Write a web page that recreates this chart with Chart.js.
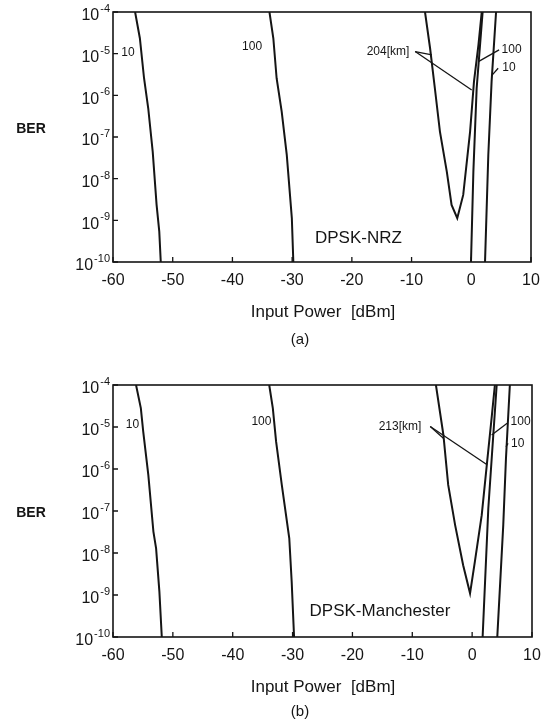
<!DOCTYPE html>
<html>
<head>
<meta charset="utf-8">
<script src="https://cdn.jsdelivr.net/npm/chart.js@4.4.1/dist/chart.umd.min.js"></script>
<style>
  body { margin: 0; background: #fff; }
  #wrap { position: relative; width: 558px; height: 721px; }
  canvas { position: absolute; left: 0; }
</style>
</head>
<body>
<div id="wrap">
  <canvas id="nrz" width="558" height="360" style="top:0px"></canvas>
  <canvas id="man" width="558" height="361" style="top:360px"></canvas>
</div>
<script>
var xTicks = [-60, -50, -40, -30, -20, -10, 0, 10];
var yExps = [-4, -5, -6, -7, -8, -9, -10];   // BER = 10^exp

// (a) DPSK-NRZ : input power [dBm] vs log10(BER)
var nrz10X  = [-56.3, -55.5, -54.8, -54.1, -53.35, -52.7, -52.25, -52.0];
var nrz10E  = [-4, -4.63, -5.59, -6.31, -7.35, -8.63, -9.27, -10];
var nrz100X = [-33.8, -33.15, -32.6, -31.75, -30.9, -30.05, -29.8];
var nrz100E = [-4, -4.63, -5.59, -6.39, -7.43, -8.95, -10];
var nrz204X = [-7.75, -6.9, -6.1, -5.25, -4.1, -3.3, -2.35, -1.35, -0.2, 0.45, 1.2, 1.75];
var nrz204E = [-4, -4.87, -5.83, -6.87, -7.83, -8.63, -8.95, -8.39, -6.87, -5.67, -4.79, -4];
var nrz100bX = [-0.05, 0.35, 0.9, 1.9];
var nrz100bE = [-10, -7.83, -5.83, -4];
var nrz10bX = [2.3, 2.85, 3.4, 4.15];
var nrz10bE = [-10, -7.43, -5.67, -4];

// (b) DPSK-Manchester
var man10X  = [-56.15, -55.35, -54.95, -54.1, -53.25, -52.8, -52.25, -51.85];
var man10E  = [-4, -4.55, -5.11, -6.14, -7.49, -7.89, -8.92, -10];
var man100X = [-33.9, -33.3, -32.75, -31.8, -30.55, -30.15, -29.75];
var man100E = [-4, -4.55, -5.35, -6.38, -7.65, -8.68, -10];
var man213X = [-6.05, -4.8, -4.0, -2.85, -1.5, -0.35, 0.45, 1.6, 2.45, 3.25, 3.8];
var man213E = [-4, -5.19, -6.38, -7.33, -8.29, -8.96, -8.21, -7.1, -5.9, -4.79, -4];
var man100bX = [1.75, 2.7, 4.1];
var man100bE = [-10, -6.94, -4];
var man10bX = [4.2, 5.2, 5.65, 6.3];
var man10bE = [-10, -7.33, -5.75, -4];

var ink = '#151515';
var face = '"Liberation Sans", Arial, sans-serif';

function pts(xs, es) {
    return xs.map(function (x, i) { return { x: x, y: Math.pow(10, es[i]) }; });
}

function curve(xs, es) {
    return {
        data: pts(xs, es),
        showLine: true,
        borderColor: ink,
        borderWidth: 2,
        pointRadius: 0,
        tension: 0
    };
}

// frame, inner ticks, y labels with exponents, curve labels, titles
var decor = {
    id: 'decor',
    afterDatasetsDraw: function (chart, args, o) {
        var ctx = chart.ctx, a = chart.chartArea;
        var xs = chart.scales.x, ys = chart.scales.y;
        var px = function (v) { return xs.getPixelForValue(v); };
        var py = function (e) { return ys.getPixelForValue(Math.pow(10, e)); };
        ctx.save();
        ctx.strokeStyle = ink;
        ctx.fillStyle = ink;

        ctx.lineWidth = 1.6;
        ctx.strokeRect(a.left, a.top, a.right - a.left, a.bottom - a.top);

        ctx.lineWidth = 1.3;
        ctx.beginPath();
        xTicks.forEach(function (v) { ctx.moveTo(px(v), a.bottom); ctx.lineTo(px(v), a.bottom - 5); });
        yExps.forEach(function (e) { ctx.moveTo(a.left, py(e)); ctx.lineTo(a.left + 5, py(e)); });
        ctx.stroke();

        ctx.textBaseline = 'middle';
        ctx.textAlign = 'left';
        yExps.forEach(function (e) {
            var y = py(e), sup = String(e);
            ctx.font = '11px ' + face;
            var ws = ctx.measureText(sup).width;
            ctx.font = '16px ' + face;
            var wb = ctx.measureText('10').width;
            var r = a.left - 3;
            ctx.fillText('10', r - ws - wb - 1, y + 4);
            ctx.font = '11px ' + face;
            ctx.fillText(sup, r - ws, y - 3);
        });

        ctx.lineWidth = 1.3;
        o.leaders.forEach(function (l) {
            ctx.beginPath();
            ctx.moveTo(px(l[0]), py(l[1]));
            ctx.lineTo(px(l[2]), py(l[3]));
            ctx.stroke();
        });

        ctx.textAlign = 'center';
        o.notes.forEach(function (n) {
            ctx.font = n.size + 'px ' + face;
            ctx.fillText(n.text, px(n.x), py(n.e));
        });

        ctx.font = 'bold 14px ' + face;
        ctx.fillText('BER', 31, py(o.berE));
        ctx.font = '17px ' + face;
        ctx.fillText('Input Power  [dBm]', 323, a.bottom + 50);
        ctx.font = '15px ' + face;
        ctx.fillText(o.tag, 300, a.bottom + o.tagDy);
        ctx.restore();
    }
};

function panel(id, box, datasets, deco) {
    var cv = document.getElementById(id);
    var W = cv.width, H = cv.height;
    return new Chart(cv.getContext('2d'), {
        type: 'scatter',
        data: { datasets: datasets },
        plugins: [decor],
        options: {
            responsive: false,
            animation: false,
            devicePixelRatio: 1,
            layout: { padding: { left: 0, top: box.top, right: W - box.right, bottom: 0 } },
            plugins: { legend: { display: false }, tooltip: { enabled: false }, decor: deco },
            scales: {
                x: {
                    type: 'linear', min: -60, max: 10,
                    afterBuildTicks: function (s) { s.ticks = xTicks.map(function (v) { return { value: v }; }); },
                    afterFit: function (s) { s.height = H - box.bottom; },
                    grid: { display: false, drawTicks: false },
                    border: { display: false },
                    ticks: { color: ink, font: { size: 16, family: face }, padding: 9, maxRotation: 0,
                             callback: function (v) { return String(v); } }
                },
                y: {
                    type: 'logarithmic', min: 1e-10, max: 1e-4,
                    afterFit: function (s) { s.width = box.left; },
                    grid: { display: false },
                    border: { display: false },
                    ticks: { display: false }
                }
            }
        }
    });
}

panel('nrz', { left: 113, top: 12, right: 531, bottom: 262 }, [
    curve(nrz10X, nrz10E), curve(nrz100X, nrz100E), curve(nrz204X, nrz204E),
    curve(nrz100bX, nrz100bE), curve(nrz10bX, nrz10bE)
], {
    berE: -6.8, tag: '(a)', tagDy: 78,
    notes: [
        { text: '10', x: -57.5, e: -4.98, size: 12 },
        { text: '100', x: -36.7, e: -4.84, size: 12 },
        { text: '204[km]', x: -13.95, e: -4.96, size: 12 },
        { text: '100', x: 6.75, e: -4.91, size: 12 },
        { text: '10', x: 6.3, e: -5.34, size: 12 },
        { text: 'DPSK-NRZ', x: -18.9, e: -9.42, size: 17 }
    ],
    leaders: [[-9.4, -4.95, -6.6, -5.03], [-9.4, -4.95, 0.07, -5.87],
              [4.65, -4.91, 1.18, -5.19], [4.5, -5.35, 3.52, -5.51]]
});

panel('man', { left: 113, top: 25, right: 532, bottom: 277 }, [
    curve(man10X, man10E), curve(man100X, man100E), curve(man213X, man213E),
    curve(man100bX, man100bE), curve(man10bX, man10bE)
], {
    berE: -7.05, tag: '(b)', tagDy: 75,
    notes: [
        { text: '10', x: -56.75, e: -4.95, size: 12 },
        { text: '100', x: -35.2, e: -4.87, size: 12 },
        { text: '213[km]', x: -12.05, e: -4.99, size: 12 },
        { text: '100', x: 8.1, e: -4.87, size: 12 },
        { text: '10', x: 7.6, e: -5.39, size: 12 },
        { text: 'DPSK-Manchester', x: -15.4, e: -9.4, size: 17 }
    ],
    leaders: [[-7.0, -4.99, -4.8, -5.27], [-7.0, -4.99, 2.5, -5.9],
              [5.85, -4.91, 3.26, -5.19], [6.0, -5.39, 5.65, -5.47]]
});
</script>
</body>
</html>
